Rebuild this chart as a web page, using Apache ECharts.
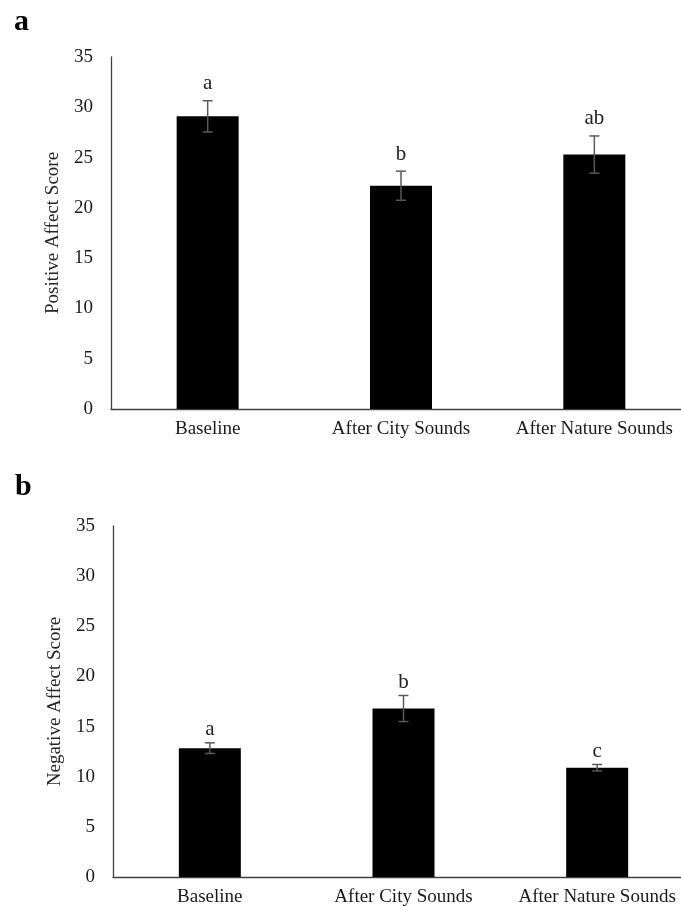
<!DOCTYPE html>
<html>
<head>
<meta charset="utf-8">
<script src="https://cdn.jsdelivr.net/npm/echarts@6/dist/echarts.min.js"></script>
<style>
  html,body{margin:0;padding:0;background:#fff;}
  #main{width:681px;height:906px;}
</style>
</head>
<body>
<div id="main"></div>
<script>
// data
var categories = ['Baseline', 'After City Sounds', 'After Nature Sounds'];
var posMean = [29.1, 22.2, 25.3];
var posErr = [1.55, 1.45, 1.85];
var posLetters = ['a', 'b', 'ab'];
var negMean = [12.85, 16.8, 10.9];
var negErr = [0.53, 1.3, 0.32];
var negLetters = ['a', 'b', 'c'];
var yTicks = [0, 5, 10, 15, 20, 25, 30, 35];

var serif = '"Liberation Serif", "Times New Roman", serif';

// 误差线 + 字母标注
function errRender(letters, gap){
    return function(params, api){
        var x = api.value(0), m = api.value(1), e = api.value(2);
        var hi = api.coord([x, m + e]);
        var lo = api.coord([x, m - e]);
        var st = {stroke: '#595959', lineWidth: 1.5};
        return {
            type: 'group',
            children: [
                {type: 'line', shape: {x1: hi[0], y1: hi[1], x2: lo[0], y2: lo[1]}, style: st},
                {type: 'line', shape: {x1: hi[0] - 5, y1: hi[1], x2: hi[0] + 5, y2: hi[1]}, style: st},
                {type: 'line', shape: {x1: lo[0] - 5, y1: lo[1], x2: lo[0] + 5, y2: lo[1]}, style: st},
                {type: 'text', x: hi[0], y: hi[1] - gap, style: {
                    text: letters[params.dataIndex], fill: '#222', font: '21px ' + serif,
                    textAlign: 'center', textVerticalAlign: 'middle'
                }}
            ]
        };
    };
}

function errData(mean, err){
    var d = [];
    for (var i = 0; i < mean.length; i++) d.push([i, mean[i], err[i]]);
    return d;
}

function xAx(idx){
    return {
        type: 'category', gridIndex: idx, data: categories,
        axisLine: {lineStyle: {color: '#404040', width: 1.3}},
        axisTick: {show: false},
        axisLabel: {color: '#1a1a1a', fontSize: 19, fontFamily: serif, margin: 11, interval: 0}
    };
}
function yAx(idx, name){
    return {
        type: 'value', gridIndex: idx, min: yTicks[0], max: yTicks[yTicks.length - 1], interval: 5,
        name: name, nameLocation: 'middle', nameGap: 48,
        nameTextStyle: {color: '#262626', fontSize: 19, fontFamily: serif},
        axisLine: {show: true, lineStyle: {color: '#404040', width: 1.3}},
        axisTick: {show: false},
        splitLine: {show: false},
        axisLabel: {color: '#1a1a1a', fontSize: 19, fontFamily: serif, margin: 18, padding: [0, 0, 8, 0]}
    };
}

var chart = echarts.init(document.getElementById('main'));
var option = {
    backgroundColor: '#fff',
    animation: false,
    grid: [
        {left: 111, top: 57, width: 580, height: 352, outerBoundsMode: 'none'},
        {left: 113, top: 526, width: 581, height: 351, outerBoundsMode: 'none'}
    ],
    graphic: [
        {type: 'text', left: 14, top: 7, style: {text: 'a', font: 'bold 30px ' + serif, fill: '#000'}},
        {type: 'text', left: 15, top: 472, style: {text: 'b', font: 'bold 30px ' + serif, fill: '#000'}}
    ],
    xAxis: [xAx(0), xAx(1)],
    yAxis: [yAx(0, 'Positive Affect Score'), yAx(1, 'Negative Affect Score')],
    series: [
        {type: 'bar', xAxisIndex: 0, yAxisIndex: 0, data: posMean, barWidth: 62,
         itemStyle: {color: '#000'}},
        {type: 'custom', xAxisIndex: 0, yAxisIndex: 0, data: errData(posMean, posErr),
         renderItem: errRender(posLetters, 17), z: 5},
        {type: 'bar', xAxisIndex: 1, yAxisIndex: 1, data: negMean, barWidth: 62,
         itemStyle: {color: '#000'}},
        {type: 'custom', xAxisIndex: 1, yAxisIndex: 1, data: errData(negMean, negErr),
         renderItem: errRender(negLetters, 13), z: 5}
    ]
};
chart.setOption(option);
</script>
</body>
</html>
